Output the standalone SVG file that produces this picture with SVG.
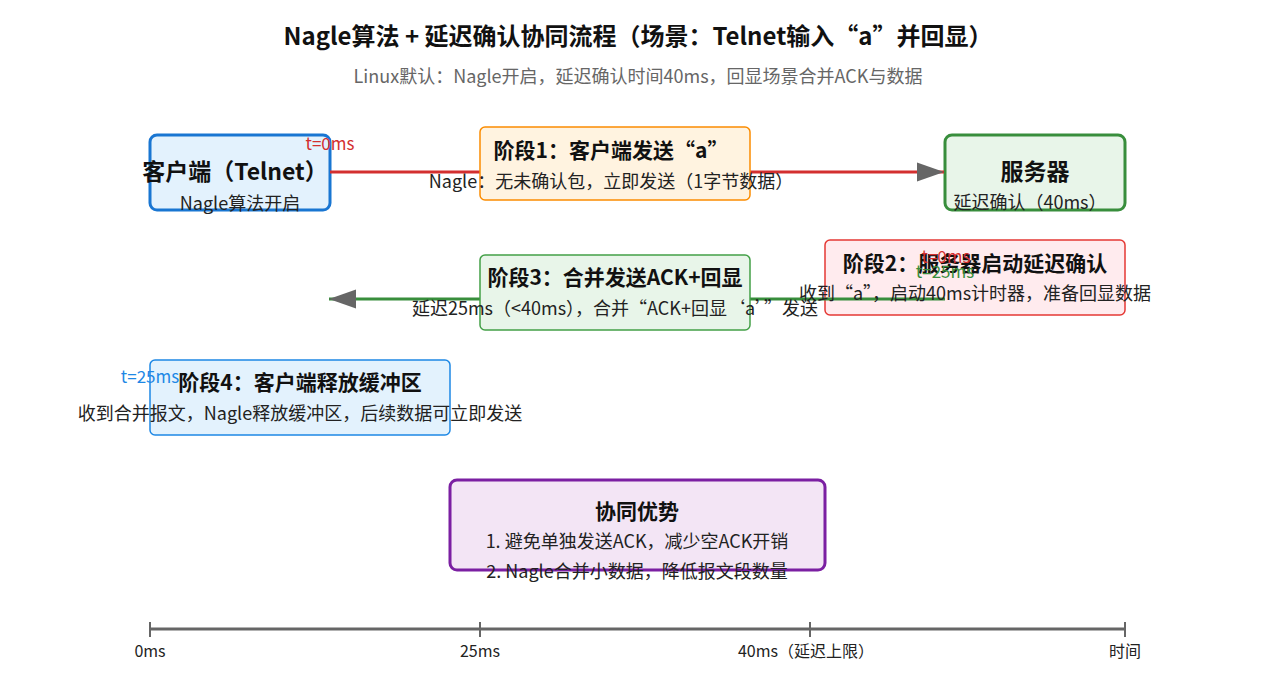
<svg xmlns="http://www.w3.org/2000/svg" width="1275" height="675" viewBox="0 0 1275 675">
<defs>
<marker id="arr" viewBox="0 0 10 7" refX="10" refY="3.5" markerWidth="9" markerHeight="6.5" markerUnits="strokeWidth" orient="auto-start-reverse">
<path d="M0,0 L10,3.5 L0,7 z" fill="#666"/>
</marker>
<style>
text{font-family:"Noto Sans CJK SC","Liberation Sans",sans-serif;fill:#222;text-anchor:middle}
.title{font-size:24px;font-weight:bold;fill:#111}
.sub{font-size:18px;fill:#666}
.nt{font-size:23px;font-weight:bold;fill:#111}
.st{font-size:21px;font-weight:bold;fill:#111}
.d{font-size:18px}
.t{font-size:17px}
.ax{font-size:16px}
.main{stroke-width:3}
.stage{stroke-width:1.5}
</style>
</defs>
<rect width="1275" height="675" fill="#fff"/>
<text class="title" x="638" y="45">Nagle算法 + 延迟确认协同流程（场景：Telnet输入“a”并回显）</text>
<text class="sub" x="638" y="83">Linux默认：Nagle开启，延迟确认时间40ms，回显场景合并ACK与数据</text>

<g id="client">
<rect class="main" x="150" y="135" width="180" height="75" rx="7" fill="#e3f2fd" stroke="#1976d2"/>
<text class="nt" x="235" y="180">客户端（Telnet）</text>
<text class="d" x="240" y="210">Nagle算法开启</text>
</g>
<g id="server">
<rect class="main" x="945" y="135" width="180" height="75" rx="7" fill="#e8f5e9" stroke="#388e3c"/>
<text class="nt" x="1035" y="180">服务器</text>
<text class="d" x="1030" y="209">延迟确认（40ms）</text>
</g>
<g id="stage2">
<rect class="stage" x="825" y="240" width="300" height="75" rx="5" fill="#ffebee" stroke="#e53935"/>
<text class="st" x="975" y="271">阶段2：服务器启动延迟确认</text>
</g>

<g id="connectors">
<line x1="330" y1="172" x2="944" y2="172" stroke="#d32f2f" stroke-width="3" marker-end="url(#arr)"/>
<line x1="945" y1="299" x2="329" y2="299" stroke="#388e3c" stroke-width="3" marker-end="url(#arr)"/>
</g>

<g id="stage2-desc">
<text class="d" x="975" y="300">收到“a”，启动40ms计时器，准备回显数据</text>
</g>
<g id="stage1">
<rect class="stage" x="480" y="127" width="270" height="73" rx="5" fill="#fff3e0" stroke="#fb8c00"/>
<text class="st" x="611" y="158">阶段1：客户端发送“a”</text>
<text class="d" x="611" y="188">Nagle：无未确认包，立即发送（1字节数据）</text>
</g>
<g id="stage3">
<rect class="stage" x="480" y="255" width="270" height="75" rx="5" fill="#e8f5e9" stroke="#43a047"/>
<text class="st" x="615" y="285">阶段3：合并发送ACK+回显</text>
<text class="d" x="615" y="315">延迟25ms（&lt;40ms），合并“ACK+回显‘a’”发送</text>
</g>
<g id="stage4">
<rect class="stage" x="150" y="360" width="300" height="75" rx="5" fill="#e3f2fd" stroke="#1e88e5"/>
<text class="st" x="300" y="390">阶段4：客户端释放缓冲区</text>
<text class="d" x="300" y="420">收到合并报文，Nagle释放缓冲区，后续数据可立即发送</text>
</g>
<g id="advantage">
<rect class="main" x="450" y="480" width="375" height="90" rx="7" fill="#f3e5f5" stroke="#7b1fa2"/>
<text class="nt" x="637" y="519" style="font-size:21px">协同优势</text>
<text class="d" x="637" y="548">1. 避免单独发送ACK，减少空ACK开销</text>
<text class="d" x="637" y="578">2. Nagle合并小数据，降低报文段数量</text>
</g>
<g id="time-labels">
<text class="t" x="330" y="150" style="fill:#d32f2f">t=0ms</text>
<text class="t" x="946" y="263" style="fill:#d32f2f">t=0ms</text>
<text class="t" x="945" y="278" style="fill:#388e3c">t=25ms</text>
<text class="t" x="150" y="383" style="fill:#1e88e5">t=25ms</text>
</g>
<g id="timeline">
<line x1="150" y1="629" x2="1125" y2="629" stroke="#666" stroke-width="3"/>
<path d="M150,622V637M480,622V637M810,622V637M1125,622V637" stroke="#666" stroke-width="2"/>
<text class="ax" x="150" y="657">0ms</text>
<text class="ax" x="480" y="657">25ms</text>
<text class="ax" x="806" y="657">40ms（延迟上限）</text>
<text class="ax" x="1125" y="657">时间</text>
</g>
</svg>
